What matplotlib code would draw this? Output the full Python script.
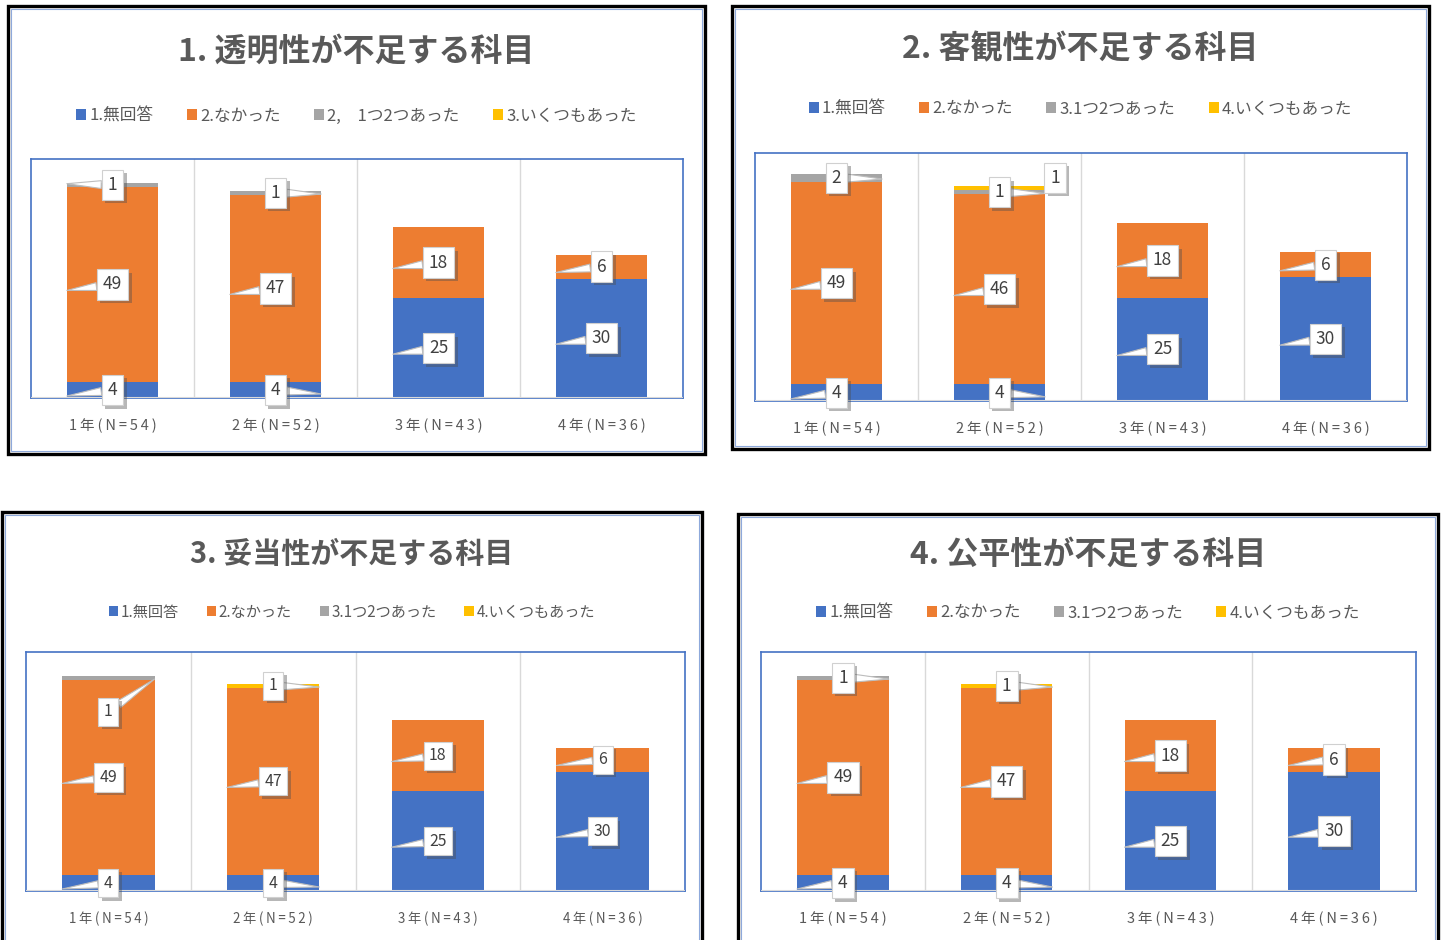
import matplotlib
matplotlib.use('Agg')
import matplotlib.pyplot as plt
from matplotlib.patches import Rectangle
from matplotlib import patheffects as pe
import numpy as np

plt.rcParams['font.family'] = ['Noto Sans CJK JP', 'DejaVu Sans']

# ---- data ----
categories = ['1年(N=54)', '2年(N=52)', '3年(N=43)', '4年(N=36)']
titles = ['1. 透明性が不足する科目', '2. 客観性が不足する科目',
          '3. 妥当性が不足する科目', '4. 公平性が不足する科目']
legend_first = ['1.無回答', '2.なかった', '2,\u30001つ2つあった', '3.いくつもあった']
legend_rest = ['1.無回答', '2.なかった', '3.1つ2つあった', '4.いくつもあった']

# panel 1
p1_none = [4, 4, 25, 30]
p1_no = [49, 47, 18, 6]
p1_few = [1, 1, 0, 0]
p1_many = [0, 0, 0, 0]
# panel 2
p2_none = [4, 4, 25, 30]
p2_no = [49, 46, 18, 6]
p2_few = [2, 1, 0, 0]
p2_many = [0, 1, 0, 0]
# panel 3
p3_none = [4, 4, 25, 30]
p3_no = [49, 47, 18, 6]
p3_few = [1, 0, 0, 0]
p3_many = [0, 1, 0, 0]
# panel 4
p4_none = [4, 4, 25, 30]
p4_no = [49, 47, 18, 6]
p4_few = [1, 0, 0, 0]
p4_many = [0, 1, 0, 0]

colors = ['#4472C4', '#ED7D31', '#A5A5A5', '#FFC000']
text_gray = '#595959'

W, H = 1443, 940
fig = plt.figure(figsize=(W / 100, H / 100), dpi=100)


def fx(x):
    return x / W


def fy(y):
    return 1 - y / H


def spaced(s):
    # thin spaces between characters, like the wide tracking of the original
    return '\u2009'.join(s)


# pixel layout of each panel: frame, plot area, title y, legend y, text scale
panels = [
    dict(frame=(8, 6, 705, 454), plot=(31, 159, 683, 398), title=52, leg=116, scale=1.0,
         series=[p1_none, p1_no, p1_few, p1_many], labels=legend_first),
    dict(frame=(732, 6, 1429, 449), plot=(755, 153, 1407, 401), title=49, leg=109, scale=1.0,
         series=[p2_none, p2_no, p2_few, p2_many], labels=legend_rest),
    dict(frame=(2, 512, 702, 960), plot=(26, 652, 685, 891), title=554, leg=612, scale=0.91,
         series=[p3_none, p3_no, p3_few, p3_many], labels=legend_rest),
    dict(frame=(738, 514, 1438, 960), plot=(761, 652, 1416, 891), title=555, leg=613, scale=1.0,
         series=[p4_none, p4_no, p4_few, p4_many], labels=legend_rest),
]

# label offsets for crowded small segments: (panel, series, cat) -> (dx, dy)
label_shift = {
    (1, 3, 1): (0.34, 2.5),
    (2, 2, 0): (0.0, -8.5),
}

bar_w = 0.56
for k, p in enumerate(panels):
    x0, y0, x1, y1 = p['frame']
    sc = p['scale']
    fig.patches.append(Rectangle((fx(x0), fy(y1)), fx(x1 - x0), (y1 - y0) / H,
                                 transform=fig.transFigure, fill=False,
                                 ec='black', lw=2.4, zorder=0))
    fig.patches.append(Rectangle((fx(x0 + 3), fy(y1 - 3)), fx(x1 - x0 - 6), (y1 - y0 - 6) / H,
                                 transform=fig.transFigure, fill=False,
                                 ec='#8EA9DB', lw=0.8, zorder=0))

    px0, py0, px1, py1 = p['plot']
    ax = fig.add_axes([fx(px0), fy(py1), fx(px1 - px0), (py1 - py0) / H])
    x = np.arange(len(categories))
    bottom = np.zeros(len(categories))
    handles = []
    for s, vals in enumerate(p['series']):
        vals = np.array(vals, dtype=float)
        b = ax.bar(x, vals, bar_w, bottom=bottom, color=colors[s], zorder=2)
        handles.append(b)
        for i in range(len(categories)):
            if vals[i] <= 0:
                continue
            mid = bottom[i] + vals[i] / 2
            dx, dy = label_shift.get((k, s, i), (0.0, 0.0))
            small = vals[i] <= 2
            if small or (s == 0 and i == 1):
                tip = (i + bar_w / 2, mid - (0.3 if small else 1.0))
            else:
                tip = (i - bar_w / 2, mid - 1.5)
            if small and s == 2 and k == 0 and i == 0:
                tip = (i - bar_w / 2, mid + 0.3)
            ann = ax.annotate(str(int(vals[i])), xy=tip, xytext=(i + dx, mid + dy),
                              ha='center', va='center', fontsize=12.5 * sc, color='#404040',
                              zorder=5,
                              bbox=dict(boxstyle='square,pad=0.35', fc='white',
                                        ec='#D0D0D0', lw=0.8),
                              arrowprops=dict(arrowstyle='wedge,tail_width=0.45',
                                              fc='white', ec='#BDBDBD', lw=0.8,
                                              shrinkA=0, shrinkB=0))
            ann.get_bbox_patch().set_path_effects(
                [pe.SimplePatchShadow(offset=(2.5, -2.5), alpha=0.4), pe.Normal()])
        bottom += vals

    ax.set_xlim(-0.5, len(categories) - 0.5)
    ax.set_ylim(0, 60)
    ax.set_yticks([])
    ax.set_xticks(x)
    ax.set_xticklabels([spaced(c) for c in categories], fontsize=10.5 * sc, color=text_gray)
    ax.tick_params(axis='x', length=0, pad=15)
    for xv in [0.5, 1.5, 2.5]:
        ax.axvline(xv, color='#D9D9D9', lw=1, zorder=1)
    ax.axhline(0, color='#D9D9D9', lw=1.5, zorder=3)
    for sp in ax.spines.values():
        sp.set_color('#4472C4')
        sp.set_linewidth(1.2)

    cx = (x0 + x1) / 2
    fig.text(fx(cx), fy(p['title']), titles[k], ha='center', va='center',
             fontsize=23 * sc, fontweight='bold', color=text_gray)
    fig.legend(handles, p['labels'], loc='center', bbox_to_anchor=(fx(cx), fy(p['leg'])),
               ncol=4, frameon=False, fontsize=12 * sc, labelcolor=text_gray,
               handlelength=0.6, handleheight=0.6, handletextpad=0.2,
               columnspacing=2.0 * sc)

fig.savefig('out.png', dpi=100)
